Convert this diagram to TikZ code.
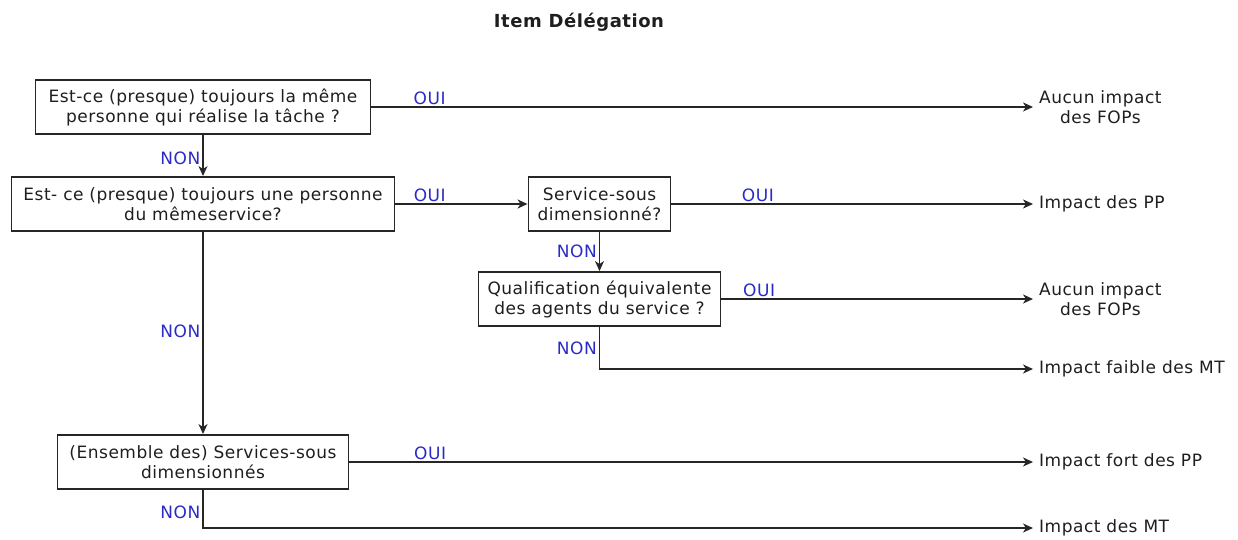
\documentclass[tikz,border=0pt]{standalone}
\usepackage{fontspec}
\setmainfont{DejaVu Sans}[LetterSpace=3]
\usetikzlibrary{arrows.meta, positioning}
\definecolor{labelBlue}{HTML}{2A2AC8}
\definecolor{textDark}{HTML}{1E1E1E}
\definecolor{lineDark}{HTML}{262626}

\begin{document}
\begin{tikzpicture}[x=1pt, y=-1pt, font=\fontsize{17}{20}\selectfont,
    box/.style={draw=lineDark, line width=1.9pt, align=center, text=textDark, minimum height=54pt, inner sep=2pt},
    res/.style={anchor=west, align=center, text=textDark, inner xsep=6pt},
    flow/.style={draw=lineDark, line width=1.5pt, -{Stealth[length=10pt, width=9pt, inset=3pt]}},
    oui/.style={above, text=labelBlue, inner sep=2pt},
    non/.style={left, text=labelBlue, inner sep=2pt}]
  \useasboundingbox (0,0) rectangle (1238,540);
  \node[font=\fontsize{18}{22}\selectfont\bfseries, text=textDark] (title) at (579,22) {Item Délégation};
  % questions
  \node[box, minimum width=335pt] (qMeme) at (203,107) {Est-ce (presque) toujours la même\\personne qui réalise la tâche ?};
  \node[box, minimum width=383pt] (qService) at (203,204) {Est- ce (presque) toujours une personne\\du mêmeservice?};
  \node[box, minimum width=142pt] (qSous) at (599.5,204) {Service-sous\\dimensionné?};
  \node[box, minimum width=242pt] (qQualif) at (599.5,299) {Qualification équivalente\\des agents du service ?};
  \node[box, minimum width=291pt] (qEnsemble) at (203,462) {(Ensemble des) Services-sous\\dimensionnés};
  % results
  \node[res] (rAucunA) at (1033,107) {Aucun impact\\des FOPs};
  \node[res] (rPP) at (1033,204) {Impact des PP};
  \node[res] (rAucunB) at (1033,299) {Aucun impact\\des FOPs};
  \node[res] (rFaibleMT) at (1033,369) {Impact faible des MT};
  \node[res] (rFortPP) at (1033,462) {Impact fort des PP};
  \node[res] (rMT) at (1033,528) {Impact des MT};
  % connectors
  \draw[flow] (qMeme.east) -- node[oui, pos=0.088] {OUI} (rAucunA.west);
  \draw[flow] (qMeme.south) -- node[non, pos=0.56] {NON} (qService.north);
  \draw[flow] (qService.east) -- node[oui, pos=0.26] {OUI} (qSous.west);
  \draw[flow] (qSous.east) -- node[oui, pos=0.239] {OUI} (rPP.west);
  \draw[flow] (qSous.south) -- node[non, pos=0.5] {NON} (qQualif.north);
  \draw[flow] (qQualif.east) -- node[oui, pos=0.121] {OUI} (rAucunB.west);
  \draw[flow] (qQualif.south) |- node[non, pos=0.256] {NON} (rFaibleMT.west);
  \draw[flow] (qService.south) -- node[non, pos=0.49] {NON} (qEnsemble.north);
  \draw[flow] (qEnsemble.east) -- node[oui, pos=0.118] {OUI} (rFortPP.west);
  \draw[flow] (qEnsemble.south) |- node[non, pos=0.295] {NON} (rMT.west);
\end{tikzpicture}
\end{document}
